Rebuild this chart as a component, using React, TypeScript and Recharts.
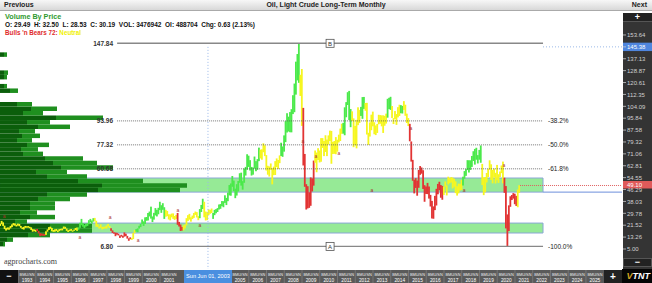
import React from 'react';
import { ComposedChart, BarChart, Bar, XAxis, YAxis, ReferenceLine, ReferenceArea, Scatter } from 'recharts';

const W = 652;
const H = 283;
const T0 = 1991.7;
const T1 = 2026.75;
const P0 = -8.9;
const P1 = 168.9;
const MARGIN = { top: 13, right: 30, bottom: 14, left: 0 };
const FONT = '"Liberation Sans", Arial, sans-serif';

// monthly low / high, Sep 1991 .. Dec 2020
const lows = [
  21.0, 22.2, 21.0, 18.8,
  17.8, 18.5, 18.4, 19.3, 20.2, 21.4, 21.2, 20.6, 21.2, 20.8, 19.7, 18.8,
  18.5, 19.7, 19.8, 19.8, 19.4, 18.2, 17.0, 17.4, 16.9, 17.5, 15.8, 13.9,
  14.3, 14.2, 14.1, 14.8, 17.0, 18.2, 19.0, 17.3, 16.9, 17.0, 17.5, 16.7,
  17.4, 18.0, 17.9, 19.0, 19.0, 17.6, 16.8, 17.4, 17.6, 17.0, 17.6, 18.2,
  17.6, 18.4, 19.7, 21.5, 20.5, 19.5, 20.6, 21.0, 22.2, 23.6, 22.6, 24.0,
  24.2, 20.5, 20.3, 19.2, 19.7, 18.6, 19.0, 19.3, 19.2, 20.6, 19.6, 17.6,
  16.1, 15.6, 13.9, 14.9, 14.4, 12.7, 13.6, 12.8, 13.6, 13.9, 12.2, 10.7,
  11.8, 11.3, 11.9, 16.0, 17.0, 16.7, 19.2, 20.2, 22.4, 21.0, 22.4, 24.6,
  24.8, 27.6, 26.1, 23.7, 25.4, 28.3, 27.6, 29.1, 32.0, 30.1, 32.2, 25.9,
  27.4, 27.8, 25.5, 24.9, 27.0, 25.9, 25.2, 25.9, 21.8, 20.6, 17.5, 17.8,
  17.9, 19.3, 21.4, 24.5, 25.4, 24.0, 25.8, 26.6, 28.7, 26.9, 25.0, 26.4,
  30.7, 32.8, 27.0, 24.8, 25.1, 28.5, 29.5, 30.0, 25.9, 28.5, 29.8, 30.7,
  32.4, 32.9, 34.7, 34.0, 37.0, 35.5, 38.2, 42.2, 42.0, 48.2, 45.2, 40.3,
  42.1, 45.0, 51.0, 49.0, 46.2, 51.0, 56.0, 60.0, 62.0, 59.5, 56.0, 56.6,
  60.8, 59.0, 60.0, 66.0, 67.9, 67.0, 72.2, 69.5, 59.5, 56.6, 55.3, 60.0,
  49.9, 56.3, 56.4, 61.9, 60.5, 64.6, 69.6, 69.0, 72.6, 79.2, 85.9, 86.6,
  86.1, 86.0, 98.7, 100.0, 112.2, 122.1, 120.4, 111.3, 90.5, 63.0, 48.2, 32.4,
  33.2, 33.6, 35.0, 45.0, 49.0, 64.9, 58.3, 66.8, 65.1, 65.6, 75.2, 69.5,
  72.4, 69.5, 77.5, 80.0, 64.2, 71.0, 71.1, 70.8, 72.6, 79.0, 80.0, 85.0,
  85.1, 84.0, 96.5, 105.0, 94.6, 89.6, 93.9, 75.7, 77.1, 74.9, 91.0, 92.5,
  97.4, 95.4, 102.3, 101.0, 84.5, 77.3, 83.1, 87.5, 90.2, 84.7, 84.1, 85.6,
  91.6, 92.0, 90.2, 85.6, 90.6, 92.1, 96.2, 102.2, 101.6, 96.0, 91.8, 95.3,
  91.2, 96.4, 97.4, 99.3, 99.1, 101.6, 97.5, 92.5, 90.4, 79.8, 65.7, 52.4,
  43.6, 47.4, 42.0, 47.5, 56.5, 57.3, 46.7, 37.8, 43.2, 43.1, 40.0, 34.5,
  26.2, 26.0, 32.0, 35.2, 43.0, 45.8, 40.6, 39.2, 42.5, 48.3, 42.2, 49.8,
  50.7, 51.2, 47.1, 48.2, 43.8, 42.1, 43.6, 45.6, 46.0, 49.1, 53.8, 55.8,
  59.8, 58.1, 59.9, 62.0, 66.1, 63.6, 67.0, 64.4, 67.0, 64.9, 49.4, 42.4,
  44.4, 51.2, 55.0, 60.1, 53.0, 50.6, 54.7, 50.5, 52.8, 50.9, 55.0, 57.7,
  50.6, 44.0, 19.3, 6.8, 17.5, 34.3, 39.0, 40.0, 36.1, 34.9, 34.0, 44.0,
];
const highs = [
  22.6, 24.5, 23.5, 21.2,
  19.5, 20.0, 19.9, 21.0, 22.1, 23.0, 22.7, 21.9, 22.6, 22.4, 21.0, 20.0,
  20.4, 21.0, 20.8, 20.9, 20.4, 20.0, 18.8, 18.6, 18.4, 18.9, 17.6, 16.0,
  15.8, 15.6, 15.4, 17.3, 18.6, 20.2, 20.5, 19.6, 18.2, 18.6, 18.9, 17.9,
  18.8, 19.0, 19.2, 20.6, 20.4, 19.2, 18.0, 18.5, 18.9, 17.9, 18.5, 19.6,
  19.9, 20.0, 23.2, 25.9, 22.8, 21.6, 22.3, 22.8, 25.0, 25.9, 24.8, 26.4,
  26.6, 24.6, 22.2, 20.6, 22.1, 20.4, 20.4, 20.6, 21.4, 22.4, 21.0, 19.4,
  17.9, 16.6, 16.4, 16.2, 15.6, 14.4, 14.9, 14.2, 16.5, 15.6, 14.1, 12.4,
  13.1, 12.6, 16.2, 18.2, 18.8, 19.3, 21.1, 22.4, 25.5, 24.2, 27.0, 27.2,
  30.0, 31.0, 34.4, 27.6, 30.1, 33.4, 32.2, 33.6, 37.8, 35.4, 36.8, 34.0,
  32.2, 31.4, 29.1, 29.0, 29.6, 29.7, 27.9, 28.7, 30.0, 23.8, 22.0, 20.3,
  21.4, 22.0, 26.4, 28.5, 29.4, 27.0, 28.2, 30.0, 31.0, 30.6, 27.8, 32.7,
  35.6, 39.9, 37.8, 31.0, 30.6, 32.5, 32.2, 33.1, 30.0, 32.2, 32.7, 33.4,
  35.9, 36.2, 38.3, 38.2, 42.3, 40.5, 44.2, 49.4, 50.5, 55.7, 52.5, 46.9,
  50.0, 52.2, 57.6, 58.0, 52.1, 60.9, 62.0, 70.8, 69.8, 66.7, 62.0, 61.6,
  69.2, 66.0, 67.4, 75.4, 74.0, 74.2, 78.4, 77.0, 70.2, 62.8, 62.3, 64.4,
  61.1, 62.2, 66.0, 67.9, 66.8, 70.0, 78.8, 76.2, 83.9, 93.8, 99.3, 96.9,
  100.1, 102.1, 111.8, 119.9, 135.1, 140.4, 147.8, 126.0, 130.0, 103.0, 71.0, 50.0,
  48.6, 44.4, 54.7, 54.0, 66.4, 73.4, 72.0, 75.0, 73.4, 82.0, 82.0, 80.0,
  84.0, 81.0, 83.9, 87.2, 87.0, 79.4, 80.0, 82.7, 80.9, 84.4, 88.6, 92.0,
  92.6, 103.4, 107.0, 113.9, 114.8, 102.2, 100.6, 95.7, 90.5, 94.7, 103.4, 101.6,
  103.7, 110.5, 110.6, 106.4, 106.5, 85.7, 92.9, 98.3, 100.4, 93.0, 90.8, 91.8,
  98.2, 98.0, 97.8, 97.8, 97.5, 99.0, 109.3, 110.0, 110.7, 104.3, 95.9, 100.8,
  98.7, 103.5, 105.2, 104.9, 104.4, 107.7, 105.2, 99.0, 95.9, 91.9, 79.7, 66.9,
  53.1, 54.2, 52.5, 59.9, 62.6, 61.6, 59.7, 49.3, 48.4, 50.9, 48.4, 42.6,
  38.4, 34.6, 41.9, 46.8, 50.2, 51.7, 49.4, 48.8, 48.4, 51.9, 49.2, 55.2,
  54.3, 54.9, 54.6, 53.8, 52.0, 48.6, 50.4, 50.2, 52.9, 55.2, 59.1, 60.5,
  66.7, 66.6, 66.6, 69.6, 72.9, 74.5, 75.3, 70.2, 73.8, 76.9, 64.1, 54.6,
  55.0, 57.8, 60.7, 66.6, 63.8, 59.9, 60.9, 57.9, 63.4, 56.9, 58.8, 63.0,
  65.7, 54.5, 48.7, 29.0, 35.3, 41.6, 42.5, 43.8, 43.4, 41.9, 46.3, 49.3,
];

// Bulls 'n Bears state changes
const regimeStarts = ['1991-09', '1993-10', '1994-04', '1996-02', '1997-01', '1997-12', '1999-02', '1999-05', '2001-01', '2001-09', '2002-01', '2002-12', '2003-03', '2003-09', '2006-05', '2007-07', '2008-08', '2008-10', '2009-06', '2011-01', '2011-07', '2012-01', '2012-04', '2013-07', '2013-10', '2014-04', '2014-06', '2014-10', '2016-09', '2017-10', '2018-11', '2020-02', '2020-11'];
const regimeStates = ['neutral', 'bear', 'neutral', 'bull', 'neutral', 'bear', 'neutral', 'bull', 'neutral', 'bear', 'neutral', 'bull', 'neutral', 'bull', 'neutral', 'bull', 'neutral', 'bear', 'neutral', 'bull', 'neutral', 'bull', 'neutral', 'bull', 'neutral', 'bull', 'neutral', 'bear', 'neutral', 'bull', 'neutral', 'bear', 'neutral'];
const STATE_COLORS: Record<string, string> = { bull: '#4be94b', neutral: '#f6f620', bear: '#e23434' };

// volume by price, 45 rows from 6.80 to 147.84
const profileLow = 6.8;
const profileHigh = 147.84;
const profileDown = [30, 70, 280, 500, 500, 150, 300, 200, 300, 300, 380, 470, 980, 1020, 780, 470, 360, 610, 530, 450, 230, 210, 270, 170, 220, 190, 380, 270, 560, 230, 310, 170, 0, 0, 100, 40, 0, 40, 40, 0, 0, 0, 40, 0, 0];
const profileUp = [20, 60, 220, 420, 420, 120, 250, 170, 250, 250, 320, 400, 820, 850, 650, 400, 310, 520, 440, 380, 200, 170, 220, 150, 180, 160, 320, 230, 470, 200, 260, 150, 0, 0, 80, 30, 0, 30, 40, 0, 0, 0, 30, 0, 0];

// fibonacci retracement
const fibLevels = [147.84, 93.96, 77.32, 60.68, 6.8];
const fibPcts = ['', '-38.2%', '-50.0%', '-61.8%', '-100.0%'];
const fibLetters = ['B', '', '', '', 'A'];
const fibFrom = 1998.3;
const fibTo = 2022.3;

// support / resistance zones
const zoneLows = [44.5, 16.1];
const zoneHighs = [54.3, 23.0];

const priceTicks = [5.0, 13.26, 21.52, 29.78, 38.03, 46.29, 54.55, 62.81, 71.06, 79.32, 87.58, 95.84, 104.09, 112.35, 120.61, 128.87, 137.13, 145.38, 153.64];
const yearTicks = [1993, 1994, 1995, 1996, 1997, 1998, 1999, 2000, 2001, 2005, 2006, 2007, 2008, 2009, 2010, 2011, 2012, 2013, 2014, 2015, 2016, 2017, 2018, 2019, 2020, 2021, 2022, 2023, 2024, 2025];

const markerTimes = [1991.93, 1996.2, 1997.9, 1999.48, 2001.73, 2002.97, 2008.77, 2009.5, 2010.8, 2012.66, 2014.86, 2017.85, 2020.1];
const markerPrices = [27.9, 13.0, 26.9, 10.9, 32.1, 22.0, 80.0, 69.6, 71.7, 46.0, 89.0, 46.0, 63.3];

const crossTime = 2003.42;
const crossPrice = 145.38;
const lastPrice = 49.1;
const lastTime = 2021.0;

const priceData = lows.map((lo, i) => {
  const m = 8 + i;
  const year = 1991 + Math.floor(m / 12);
  const key = `${year}-${String((m % 12) + 1).padStart(2, '0')}`;
  let state = regimeStates[0];
  regimeStarts.forEach((s, k) => {
    if (key >= s) state = regimeStates[k];
  });
  return { t: 1991 + m / 12 + 1 / 24, range: [lo, highs[i]], state };
});

const rowH = (profileHigh - profileLow) / profileDown.length;
const profileData = profileDown.map((d, i) => ({ mid: profileLow + rowH * (i + 0.5), down: d, up: profileUp[i] }));

const markers = markerTimes.map((t, i) => ({ t, p: markerPrices[i] }));

const PriceBar = (props: any) => {
  const { x, y, width, height, payload } = props;
  const h = Math.abs(height);
  const top = height < 0 ? y + height : y;
  return <rect x={x + width / 2 - 0.9} y={top} width={1.8} height={Math.max(h, 1)} fill={STATE_COLORS[payload.state]} />;
};

const PriceTick = (props: any) => {
  const { y, payload } = props;
  const v = payload.value as number;
  const hi = v === crossPrice;
  return (
    <g>
      {hi && <rect x={W - 29} y={y - 4.2} width={29} height={8.4} fill="#4f86de" />}
      <line x1={W - 29} x2={W - 26} y1={y} y2={y} stroke="#ccc" strokeWidth={0.8} />
      <text x={W - 25} y={y + 2.2} fontSize={6} fill={hi ? '#fff' : '#d0d0d0'}>{v.toFixed(2)}</text>
    </g>
  );
};

const YearTick = (props: any) => {
  const { x, payload } = props;
  return (
    <g>
      <line x1={x - 5} x2={x - 5} y1={H - 13} y2={H} stroke="#8a8a8a" strokeWidth={0.6} />
      <text x={x + 4} y={H - 7.5} fontSize={4.4} fill="#eee" textAnchor="middle" textLength={15} lengthAdjust="spacingAndGlyphs">BMU/SN</text>
      <text x={x + 4} y={H - 1.5} fontSize={4.8} fill="#fff" textAnchor="middle">{payload.value}</text>
    </g>
  );
};

const fibLabel = (i: number) => (props: any) => {
  const { x, y, width } = props.viewBox;
  return (
    <g>
      <text x={x - 4} y={y + 2.3} textAnchor="end" fontSize={6.5} fontWeight="bold" fill="#333">{fibLevels[i].toFixed(2)}</text>
      {fibPcts[i] && <text x={x + width + 5} y={y + 2.3} fontSize={6.5} fill="#222">{fibPcts[i]}</text>}
      {fibLetters[i] && (
        <g>
          <rect x={x + width / 2 - 4} y={y - 4} width={8} height={8} fill="#fff" stroke="#555" strokeWidth={0.8} />
          <text x={x + width / 2} y={y + 2.2} textAnchor="middle" fontSize={6} fill="#333">{fibLetters[i]}</text>
        </g>
      )}
    </g>
  );
};

const axisLabel = (text: string, fill: string) => (props: any) => {
  const { y } = props.viewBox;
  return (
    <g>
      <rect x={W - 29} y={y - 4.5} width={29} height={7.5} fill={fill} />
      <text x={W - 25} y={y + 1.8} fontSize={6} fill="#fff">{text}</text>
    </g>
  );
};

const Marker = (props: any) => (
  <text x={props.cx} y={props.cy + 2} fontSize={5} fill="#a83030" textAnchor="middle">a</text>
);

const abs = (style: React.CSSProperties): React.CSSProperties => ({ position: 'absolute', ...style });

export default function App() {
  return (
    <div style={{ position: 'absolute', left: 0, top: 0, width: W, height: H, background: '#fff', fontFamily: FONT, overflow: 'hidden' }}>
      {/* header */}
      <div style={abs({ left: 0, top: 0, width: W, height: 10, background: 'linear-gradient(#f7f7f7, #d8d8d8)', borderBottom: '1px solid #aaa' })} />
      <div style={abs({ left: 4, top: 1, fontSize: 7, fontWeight: 'bold', color: '#222' })}>Previous</div>
      <div style={abs({ left: 0, width: W, top: 1, fontSize: 7, fontWeight: 'bold', color: '#222', textAlign: 'center' })}>Oil, Light Crude Long-Term Monthly</div>
      <div style={abs({ right: 5, top: 1, fontSize: 7, fontWeight: 'bold', color: '#222' })}>Next</div>
      <div style={abs({ left: 5, top: 12, fontSize: 7.2, fontWeight: 'bold', color: '#2e9a2e' })}>Volume By Price</div>
      <div style={abs({ left: 5, top: 21, fontSize: 6.5, fontWeight: 'bold', color: '#111', whiteSpace: 'nowrap' })}>O: 29.49&nbsp; H: 32.50&nbsp; L: 28.53&nbsp; C: 30.19&nbsp; VOL: 3476942&nbsp; OI: 488704&nbsp; Chg: 0.63 (2.13%)</div>
      <div style={abs({ left: 5, top: 29, fontSize: 6.3, fontWeight: 'bold', color: '#e02a2a', whiteSpace: 'nowrap' })}>
        Bulls 'n Bears 72: <span style={{ color: '#f0f000' }}>Neutral</span>
      </div>

      {/* axis panels */}
      <div style={abs({ left: W - 29, top: 13, width: 29, height: 256, background: '#343434' })} />
      <div style={abs({ left: 0, top: 270, width: 622, height: 13, background: '#5a5a5a' })} />
      <div style={abs({ left: 4, top: 257, fontSize: 8, color: '#444', fontFamily: '"Liberation Serif", serif' })}>agprocharts.com</div>

      {/* zones */}
      <div style={abs({ left: 0, top: 0 })}>
        <ComposedChart width={W} height={H} data={priceData} margin={MARGIN}>
          <XAxis type="number" dataKey="t" domain={[T0, T1]} hide allowDataOverflow />
          <YAxis type="number" domain={[P0, P1]} hide allowDataOverflow />
          {zoneLows.map((lo, i) => (
            <ReferenceArea key={i} x1={T0} x2={fibTo} y1={lo} y2={zoneHighs[i]} fill="#96ea96" fillOpacity={1} stroke="#8aa6d6" strokeWidth={1} />
          ))}
        </ComposedChart>
      </div>

      {/* volume by price */}
      <div style={abs({ left: 0, top: 0 })}>
        <BarChart layout="vertical" width={W} height={H} data={profileData} margin={MARGIN} barGap={0}>
          <XAxis type="number" domain={[0, 6220]} hide allowDataOverflow />
          <YAxis type="number" dataKey="mid" domain={[P0, P1]} reversed hide allowDataOverflow />
          <Bar dataKey="down" stackId="v" fill="#0b5e0b" barSize={4.5} isAnimationActive={false} />
          <Bar dataKey="up" stackId="v" fill="#1f8f1f" barSize={4.5} isAnimationActive={false} />
        </BarChart>
      </div>

      {/* price */}
      <div style={abs({ left: 0, top: 0 })}>
        <ComposedChart width={W} height={H} data={priceData} margin={{ top: 13, right: 0, bottom: 0, left: 0 }}>
          <XAxis type="number" dataKey="t" domain={[T0, T1]} ticks={yearTicks} interval={0} height={14} axisLine={false} tickLine={false} tick={<YearTick />} allowDataOverflow />
          <YAxis type="number" orientation="right" domain={[P0, P1]} ticks={priceTicks} interval={0} width={30} axisLine={false} tickLine={false} tick={<PriceTick />} allowDataOverflow />
          {fibLevels.map((v, i) => (
            <ReferenceLine
              key={v}
              segment={[{ x: fibFrom, y: v }, { x: fibTo, y: v }]}
              stroke={fibLetters[i] ? '#888' : '#555'}
              strokeWidth={fibLetters[i] ? 1.4 : 0.8}
              strokeDasharray={fibLetters[i] ? undefined : '1 1'}
              label={fibLabel(i)}
            />
          ))}
          <ReferenceLine segment={[{ x: fibTo, y: zoneLows[0] }, { x: T1, y: zoneLows[0] }]} stroke="#6c8fdc" strokeWidth={1} />
          <ReferenceLine segment={[{ x: crossTime, y: crossPrice }, { x: crossTime, y: P0 }]} stroke="#9ab8e8" strokeDasharray="1 2" />
          <ReferenceLine segment={[{ x: fibTo, y: crossPrice }, { x: T1, y: crossPrice }]} stroke="#9ab8e8" strokeDasharray="1 2" />
          <ReferenceLine segment={[{ x: lastTime, y: lastPrice }, { x: T1, y: lastPrice }]} stroke="#e06060" strokeDasharray="1 1" label={axisLabel(lastPrice.toFixed(2), '#e05a5a')} />
          <Bar dataKey="range" barSize={1.8} shape={<PriceBar />} isAnimationActive={false} />
          <Scatter data={markers} dataKey="p" shape={<Marker />} isAnimationActive={false} />
        </ComposedChart>
      </div>

      {/* buttons */}
      <div style={abs({ left: W - 29, top: 13, width: 29, height: 8, background: '#222', borderBottom: '1px solid #555', color: '#fff', fontSize: 9, fontWeight: 'bold', lineHeight: '8px', textAlign: 'center' })}>+</div>
      <div style={abs({ left: W - 29, top: 258, width: 29, height: 9, background: '#222', border: '1px solid #555', boxSizing: 'border-box', color: '#fff', fontSize: 9, fontWeight: 'bold', lineHeight: '7px', textAlign: 'center' })}>−</div>
      <div style={abs({ left: 0, top: 270, width: 18, height: 13, background: '#111', color: '#fff', fontSize: 9, fontWeight: 'bold', lineHeight: '13px', textAlign: 'center' })}>−</div>
      <div style={abs({ left: 604, top: 270, width: 18, height: 13, background: '#222', color: '#fff', fontSize: 10, fontWeight: 'bold', lineHeight: '13px', textAlign: 'center' })}>+</div>
      <div style={abs({ left: 184, top: 270, width: 48, height: 13, background: '#4a8fe0', color: '#fff', fontSize: 5.6, lineHeight: '13px', textAlign: 'center', whiteSpace: 'nowrap' })}>Sun Jun 01, 2003</div>
      <div style={abs({ left: 622, top: 269, width: 30, height: 14, background: '#050505', color: '#fff', fontSize: 9, fontWeight: 'bold', fontStyle: 'italic', lineHeight: '14px', textAlign: 'right', paddingRight: 2, boxSizing: 'border-box' })}>
        <span style={{ color: '#d4a520' }}>V</span>TNT
      </div>
    </div>
  );
}
